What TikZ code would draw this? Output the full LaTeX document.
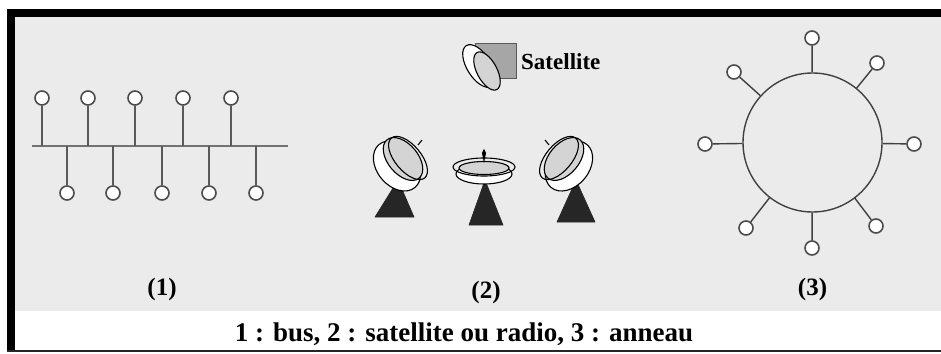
\documentclass[tikz,border=0pt]{standalone}
\usepackage{fontspec}
\setmainfont{Liberation Serif}
\begin{document}
\begin{tikzpicture}[x=1pt,y=-1pt,
  term/.style={circle,draw=black!70,fill=white,line width=1.6pt,minimum size=14pt,inner sep=0pt},
  wire/.style={draw=black!65,line width=1.8pt},
  ringwire/.style={draw=black!75,line width=1.4pt},
  lbl/.style={font=\fontsize{25}{25}\selectfont\bfseries,inner sep=0pt},
  dishline/.style={draw=black,line width=1.1pt},
  cone/.style={fill=black!85,draw=black!85,line width=0.6pt,line join=round}]
\useasboundingbox (0,0) rectangle (941,353);
% background and frame
\fill[white] (0,0) rectangle (941,353);
\fill[black!8] (15,17) rectangle (941,311);
\fill[black] (7,9) rectangle (941,17);
\fill[black] (7,9) rectangle (15,352);
\draw[black!85,line width=1.6pt] (7,351.2) -- (941,351.2);

% (1) bus
\coordinate (busL) at (32,146);
\coordinate (busR) at (288,146);
\draw[wire,draw=black!55] (busL) -- (busR);
\foreach \n/\x in {1/42,2/88,3/135,4/183,5/231}{
  \node[term] (t\n) at (\x,98) {};
  \draw[wire] (t\n) -- (t\n |- busL);
}
\foreach \n/\x in {1/67,2/113,3/162,4/209,5/256}{
  \node[term] (b\n) at (\x,193) {};
  \draw[wire] (b\n) -- (b\n |- busL);
}
\node[lbl] (l1) at (162,289) {(1)};

% (2) satellite
\fill[black!35,draw=black!65,line width=1pt] (475,44) rectangle (516,78);
\draw[dishline,fill=white,rotate around={-58:(479,66)}] (479,66) ellipse [x radius=24,y radius=12];
\draw[dishline,fill=black!17,rotate around={-62:(487,71)}] (487,71) ellipse [x radius=21,y radius=10];
\node[font=\fontsize{23}{23}\selectfont\bfseries,inner sep=0pt,anchor=west] (sat) at (521,62) {Satellite};

% ground stations: cones first, dishes over them
\fill[cone] (375,217) -- (398,180) -- (414,217) -- cycle;
\fill[cone] (469,225) -- (485,180) -- (503,225) -- cycle;
\fill[cone] (557,222) -- (576,180) -- (595,222) -- cycle;
% left dish
\draw[dishline,fill=white,rotate around={-50:(397,166)}] (397,166) ellipse [x radius=28,y radius=20];
\draw[dishline,fill=black!17,rotate around={-50:(403,159)}] (403,159) ellipse [x radius=25,y radius=15];
\draw[dishline,rotate around={-50:(408,158)}] (408,158) ellipse [x radius=26,y radius=13];
\draw[dishline] (418,145) -- (422,140);
% middle dish
\draw[dishline,fill=white] (484,174) ellipse [x radius=28,y radius=10];
\draw[dishline,fill=black!17] (484,168) ellipse [x radius=25,y radius=6.5];
\draw[dishline] (484,167) ellipse [x radius=31,y radius=9];
\draw[dishline,fill=black] (484,160) -- (482.5,153) -- (484,150) -- (485.5,153) -- cycle;
% right dish
\draw[dishline,fill=white,rotate around={50:(569,166)}] (569,166) ellipse [x radius=28,y radius=20];
\draw[dishline,fill=black!17,rotate around={50:(564,159)}] (564,159) ellipse [x radius=25,y radius=15];
\draw[dishline,rotate around={50:(559,158)}] (559,158) ellipse [x radius=26,y radius=13];
\draw[dishline] (549,145) -- (545,140);
\node[lbl] (l2) at (486,292) {(2)};

% (3) ring
\node[circle,draw=black!75,line width=1.4pt,minimum size=139pt,inner sep=0pt] (ring) at (812.5,142.5) {};
\foreach \n/\p in {1/{812,38},2/{877,63},3/{914,144},4/{876,226},5/{812,248},6/{746,228},7/{705,144},8/{734,72}}{
  \node[term] (r\n) at (\p) {};
  \draw[ringwire] (r\n) -- (ring);
}
\node[lbl] (l3) at (812.5,289) {(3)};

% caption
\node[font=\fontsize{27}{27}\selectfont\bfseries,inner sep=0pt,anchor=base] (cap) at (464,341) {1 : bus, 2 : satellite ou radio, 3 : anneau};
\end{tikzpicture}
\end{document}
